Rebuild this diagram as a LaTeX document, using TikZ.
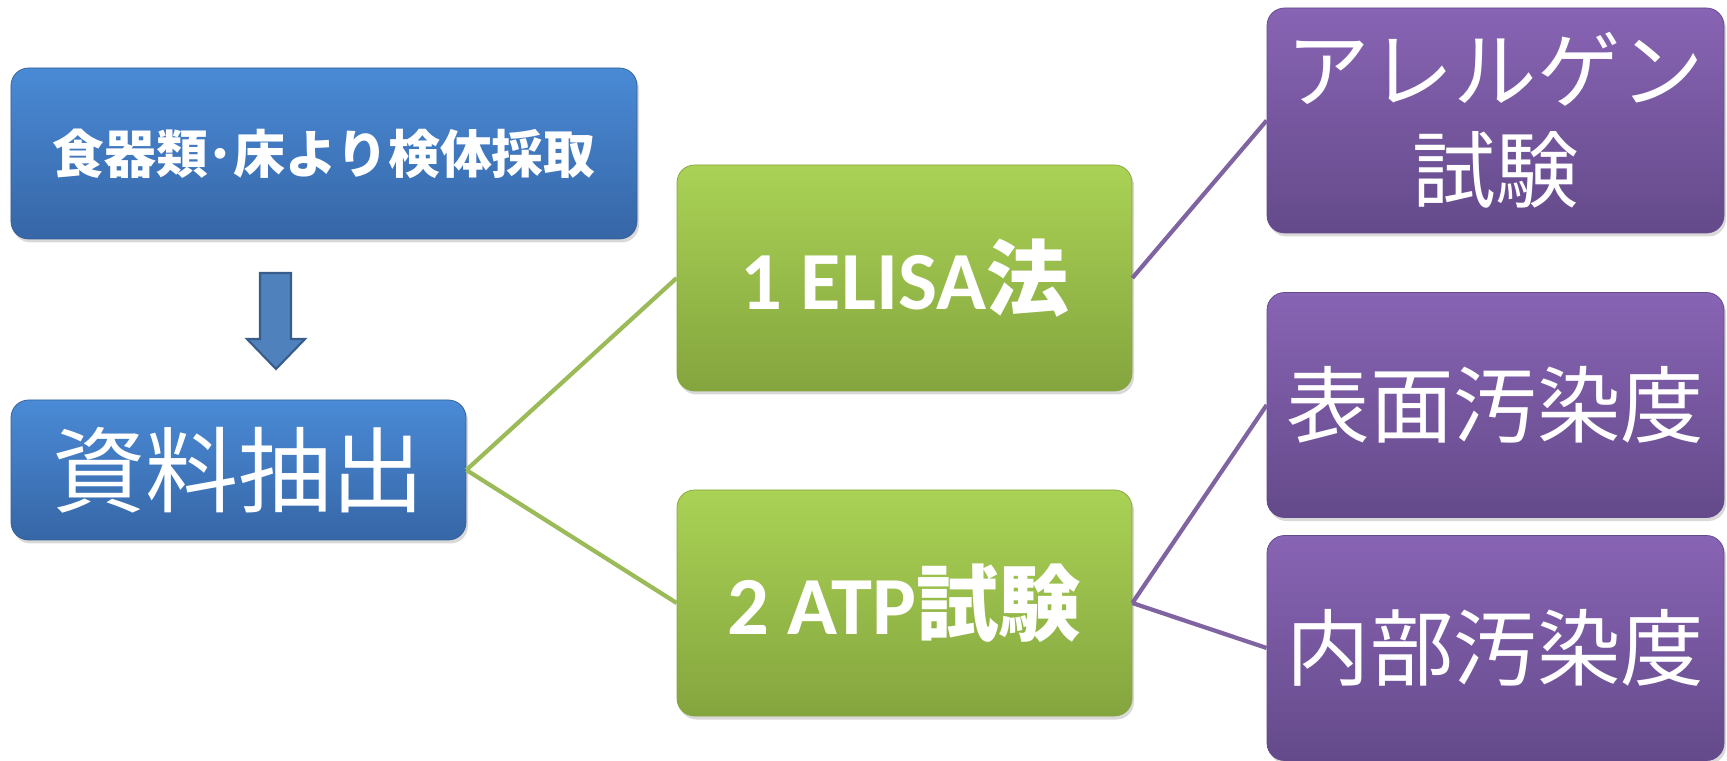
\documentclass[tikz,border=0pt]{standalone}
\usepackage{fontspec}
\newfontfamily\jp{Noto Sans CJK JP}
\newfontfamily\lat{Carlito}
\usetikzlibrary{shadows}

\definecolor{bluetop}{RGB}{74,138,214}
\definecolor{bluebot}{RGB}{54,102,166}
\definecolor{blueline}{RGB}{52,95,150}
\definecolor{greentop}{RGB}{170,210,85}
\definecolor{greenbot}{RGB}{132,165,62}
\definecolor{greenline}{RGB}{155,187,89}
\definecolor{purptop}{RGB}{136,100,180}
\definecolor{purpbot}{RGB}{100,74,138}
\definecolor{purpline}{RGB}{128,100,162}
\definecolor{arrowfill}{RGB}{79,129,189}
\definecolor{arrowline}{RGB}{56,93,138}

\begin{document}
\begin{tikzpicture}

\tikzset{box/.style = {shape=rectangle,rounded corners=0.35cm,text=white,align=center,inner sep=0pt,
  drop shadow={shadow xshift=0.04cm,shadow yshift=-0.07cm,opacity=0.3}}}
\tikzset{bluebox/.style = {box,draw=blueline,top color=bluetop,bottom color=bluebot}}
\tikzset{greenbox/.style = {box,draw=greenbot,top color=greentop,bottom color=greenbot,
  minimum width=9.1cm,minimum height=4.52cm,font=\fontsize{47}{52}\selectfont\bfseries}}
\tikzset{purplebox/.style = {box,draw=purpbot,top color=purptop,bottom color=purpbot,
  minimum width=9.14cm,minimum height=4.5cm,font=\jp\fontsize{47.5}{57}\selectfont}}
\tikzset{greenedge/.style = {draw=greenline,line width=2.4pt}}
\tikzset{purpleedge/.style = {draw=purpline,line width=2.4pt}}

\useasboundingbox (0,0) rectangle (34.54,-15.22);

% vertices
\node[bluebox,minimum width=12.52cm,minimum height=3.42cm,font=\jp\fontsize{29.5}{36}\selectfont\bfseries]
  (collect) at (6.48,-3.07) {食器類･床より検体採取};
\node[bluebox,minimum width=9.1cm,minimum height=2.8cm,font=\jp\fontsize{53}{60}\selectfont]
  (extract) at (4.77,-9.4) {資料抽出};
\node[greenbox] (elisa) at (18.09,-5.56) {{\lat 1 ELISA}{\jp 法}};
\node[greenbox] (atp) at (18.09,-12.06) {{\lat 2 ATP}{\jp 試験}};
\node[purplebox] (allergen) at (29.91,-2.41) {アレルゲン\\試験};
\node[purplebox] (surface) at (29.91,-8.1) {表面汚染度};
\node[purplebox] (inner) at (29.91,-12.96) {内部汚染度};

% block arrow
\draw[fill=arrowfill,draw=arrowline,line width=1.2pt]
  (5.2,-5.46) -- (5.82,-5.46) -- (5.82,-6.78) -- (6.1,-6.78) -- (5.52,-7.38)
  -- (4.94,-6.78) -- (5.2,-6.78) -- cycle;

\draw[greenedge] (extract.east) to (elisa.west);
\draw[greenedge] (extract.east) to (atp.west);
\draw[purpleedge] (elisa.east) to (allergen.west);
\draw[purpleedge] (atp.east) to (surface.west);
\draw[purpleedge] (atp.east) to (inner.west);

\end{tikzpicture}
\end{document}
